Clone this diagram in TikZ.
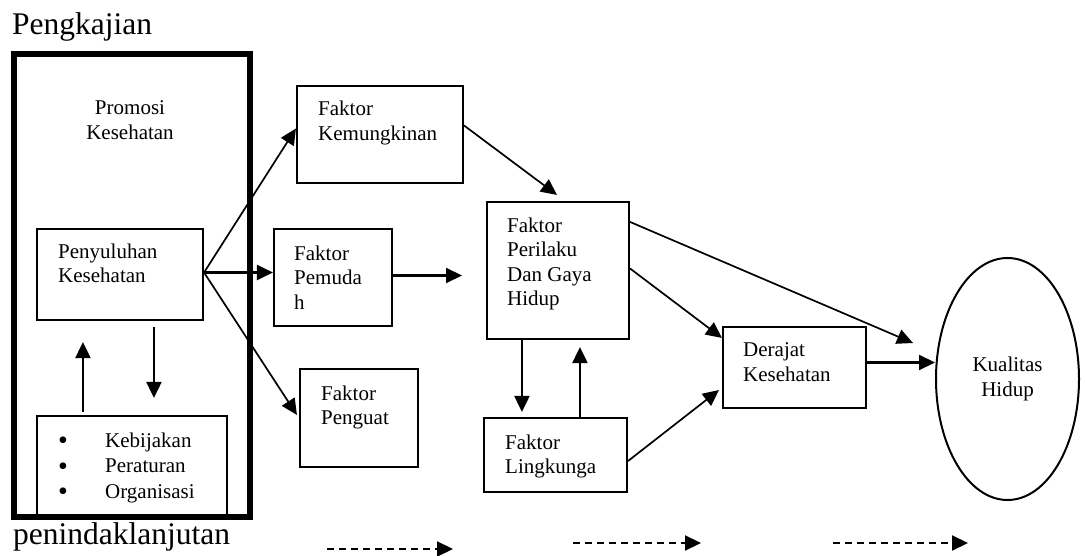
\documentclass[tikz,border=0pt]{standalone}
\usepackage{fontspec}
\setmainfont{Liberation Serif}
\usetikzlibrary{arrows.meta,calc,shapes.geometric}
\newcommand{\bulitem}{\makebox[47pt][l]{\raisebox{-2.5pt}{\fontsize{28}{28}\selectfont •}}}
\begin{document}
\begin{tikzpicture}[x=1pt,y=-1pt,
  box/.style={draw,line width=2.1pt,inner sep=0pt},
  txt/.style={inner sep=0pt,anchor=base west,align=left,font=\fontsize{21}{24.5}\selectfont},
  big/.style={inner sep=0pt,anchor=base west,font=\fontsize{31.5}{36}\selectfont},
  arr/.style={line width=2.1pt,-{Triangle[length=16pt,width=15pt]}},
  thinarr/.style={line width=1.7pt,-{Triangle[length=16pt,width=15pt]}},
  dasharr/.style={line width=2.2pt,dash pattern=on 7pt off 5pt,-{Triangle[length=16pt,width=15pt]}}]
\useasboundingbox[fill=white] (0,0) rectangle (1085,556);

% labels
\node[big] (pengk) at (12,35) {Pengkajian};
\node[big] (penind) at (13,544) {penindaklanjutan};

% boxes
\node[box,minimum width=190pt,minimum height=100pt] (bul) at (132,466) {};
\node[draw,line width=6pt,inner sep=0pt,minimum width=235.5pt,minimum height=462pt] (promo) at (131.75,285.5) {};
\node[box,minimum width=166pt,minimum height=91pt] (pen) at (120,274.5) {};
\node[box,minimum width=166pt,minimum height=97pt] (kem) at (380,134.5) {};
\node[box,minimum width=118pt,minimum height=97pt] (pem) at (333,277.5) {};
\node[box,minimum width=118pt,minimum height=98pt] (peng) at (359,418) {};
\node[box,minimum width=142pt,minimum height=137pt] (per) at (558,270.5) {};
\node[box,minimum width=143pt,minimum height=74pt] (lin) at (555.5,455) {};
\node[box,minimum width=143pt,minimum height=81pt] (der) at (794.5,367.5) {};
\node[draw,line width=2pt,ellipse,inner sep=0pt,minimum width=143pt,minimum height=242pt,
      align=center,font=\fontsize{21}{24.5}\selectfont] (kual) at (1007.5,379) {Kualitas\\Hidup};

% texts (anchor = baseline of last line)
\node[inner sep=0pt,anchor=base,align=center,font=\fontsize{21}{24.5}\selectfont] (promoT) at (130,139.5) {Promosi\\Kesehatan};
\node[txt] (penT) at (58,282.5) {Penyuluhan\\Kesehatan};
\node[txt,font=\fontsize{21}{25.5}\selectfont] (bulT) at (58,498) {\bulitem Kebijakan\\\bulitem Peraturan\\\bulitem Organisasi};
\node[txt] (kemT) at (318,140.5) {Faktor\\Kemungkinan};
\node[txt] (pemT) at (294,309) {Faktor\\Pemuda\\h};
\node[txt] (pengT) at (321,424.5) {Faktor\\Penguat};
\node[txt] (perT) at (507,305.5) {Faktor\\Perilaku\\Dan Gaya\\Hidup};
\node[txt] (linT) at (505,473.5) {Faktor\\Lingkunga};
\node[txt] (derT) at (743,381) {Derajat\\Kesehatan};

% free ends
\coordinate (pemEnd) at (462,275.5);
\coordinate (perKual) at (913,343);
\coordinate (d1a) at (327,549); \coordinate (d1b) at (453,549);
\coordinate (d2a) at (573,543); \coordinate (d2b) at (701,543);
\coordinate (d3a) at (833,543); \coordinate (d3b) at (968,543);

% connectors
\draw[thinarr] ($(pen.east)+(0,-2)$) -- ($(kem.west)+(0,-6)$);
\draw[arr] ($(pen.east)+(0,-2)$) -- ($(pem.west)+(0,-5)$);
\draw[thinarr] ($(pen.east)+(0,-2)$) -- ($(peng.west)+(-2,-3)$);
\draw[arr] ($(pen.south west)+(118,6)$) -- ($(bul.north west)+(118,-17)$);
\draw[arr] ($(bul.north west)+(47,-3)$) -- ($(pen.south west)+(47,21)$);
\draw[arr] ($(pem.east)+(0,-2)$) -- (pemEnd);
\draw[thinarr] ($(kem.east)+(0,-9)$) -- ($(per.north)+(-1,-6)$);
\draw[arr] ($(per.south west)+(36,0)$) -- ($(lin.north west)+(39,-5)$);
\draw[arr] ($(lin.north west)+(97,0)$) -- ($(per.south west)+(94,7)$);
\draw[thinarr] ($(per.east)+(0,-2)$) -- ($(der.north west)+(0,12)$);
\draw[thinarr] ($(lin.east)+(0,6)$) -- ($(der.south west)+(-3,-19)$);
\draw[thinarr] ($(per.north east)+(0,21)$) -- (perKual);
\draw[arr] ($(der.east)+(0,-5)$) -- ($(der.east -| kual.west)+(0,-5)$);

% dashed legend arrows
\draw[dasharr] (d1a) -- (d1b);
\draw[dasharr] (d2a) -- (d2b);
\draw[dasharr] (d3a) -- (d3b);
\end{tikzpicture}
\end{document}
